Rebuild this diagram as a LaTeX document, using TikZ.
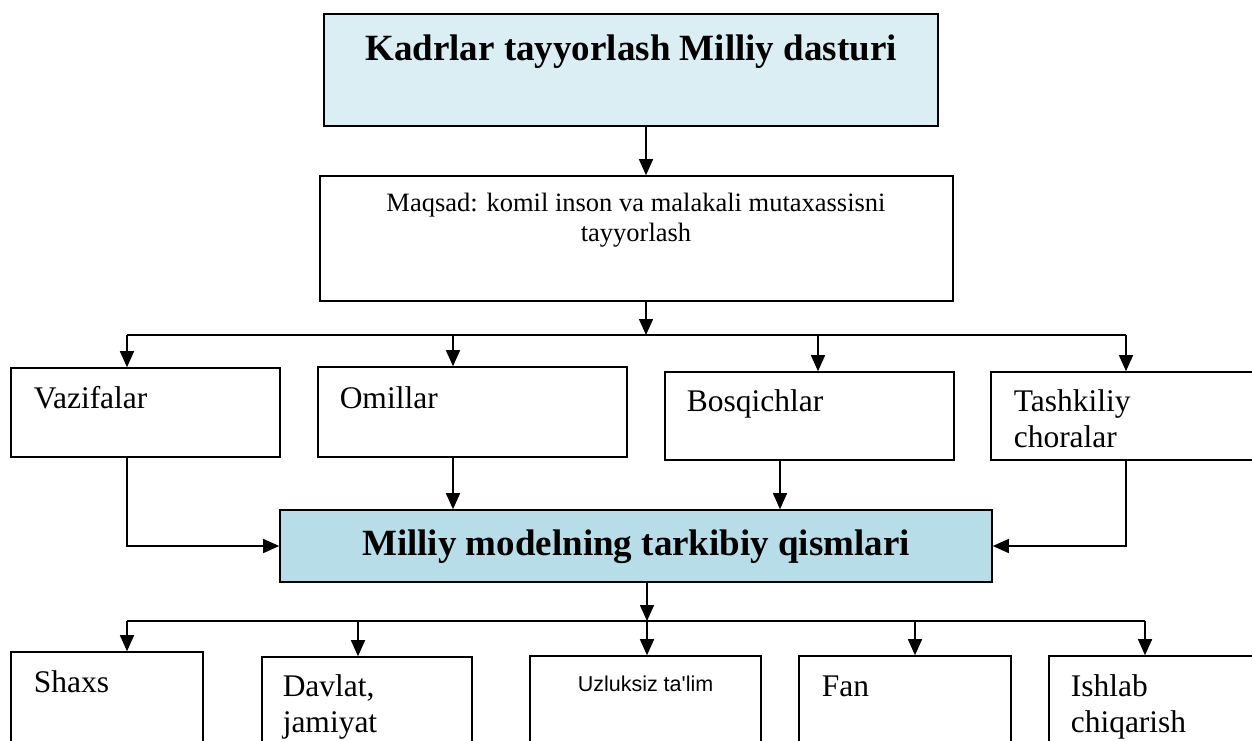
\documentclass[tikz,border=0pt]{standalone}
\usepackage{fontspec}
\setmainfont{Liberation Serif}
\newfontfamily\arialfont{Liberation Sans}
\usetikzlibrary{arrows.meta}

\definecolor{paleblue}{HTML}{DAEEF3}
\definecolor{midblue}{HTML}{B7DEE8}

\begin{document}
\begin{tikzpicture}[x=1pt, y=-1pt, line width=1.5pt,
		plain/.style = {draw, line width=1.6pt, fill=white, inner sep=0pt},
		shaded/.style = {draw, line width=1.6pt, inner sep=0pt},
		lbl/.style = {inner sep=0pt, align=left, anchor=base west,
			font=\fontsize{31.5}{36}\selectfont},
		head/.style = {inner sep=0pt, anchor=base,
			font=\fontsize{37}{44}\selectfont\bfseries},
		arr/.style = {-{Triangle[length=16pt,width=14pt]}}]

	\useasboundingbox (0,0) rectangle (1252,740);
	\clip (0,0) rectangle (1252,740);

	% upper part
	\node [shaded, fill=paleblue, minimum width=614pt, minimum height=112pt] (kad) at (631,70) {};
	\node [plain, minimum width=633pt, minimum height=125pt] (maq) at (636.5,238.5) {};
	\node [head] at (631,60) {Kadrlar tayyorlash Milliy dasturi};
	% base of a two-line node is the last line
	\node [inner sep=0pt, anchor=base, align=center, font=\fontsize{26.5}{30}\selectfont] at (636,241)
		{Maqsad: komil inson va malakali mutaxassisni\\tayyorlash};

	\coordinate (hub1) at (646,335);
	\coordinate (t1) at (127,335);
	\coordinate (t2) at (453,335);
	\coordinate (t3) at (818,335);
	\coordinate (t4) at (1126,335);
	\coordinate (c3) at (780,485);

	\draw [arr] (kad.south -| hub1) -- (maq.north -| hub1);
	\draw [arr] (maq.south -| hub1) -- (hub1);

	% second row
	\node [plain, minimum width=269pt, minimum height=89pt] (vaz) at (145.5,412.5) {};
	\node [plain, minimum width=309pt, minimum height=90pt] (omi) at (472.5,412) {};
	\node [plain, minimum width=289pt, minimum height=88pt] (bos) at (809.5,416) {};
	\node [plain, minimum width=271pt, minimum height=88pt] (tas) at (1126.5,416) {};
	\node [lbl] at (33,408) {Vazifalar};
	\node [lbl] at (339,408) {Omillar};
	\node [lbl] at (686,411) {Bosqichlar};
	\node [lbl] at (1013,447) {Tashkiliy\\choralar};

	\draw (t1) -- (t4);
	\draw [arr] (t1) -- (t1 |- vaz.north);
	\draw [arr] (t2) -- (t2 |- omi.north);
	\draw [arr] (t3) -- (t3 |- bos.north);
	\draw [arr] (t4) -- (t4 |- tas.north);

	% middle
	\node [shaded, fill=midblue, minimum width=712pt, minimum height=72pt] (mid) at (636,546) {};
	\node [head] at (636,555) {Milliy modelning tarkibiy qismlari};

	\draw [arr] (t1 |- vaz.south) -- (t1 |- mid.west) -- (mid.west);
	\draw [arr] (t2 |- omi.south) -- (t2 |- mid.north);
	\draw [arr] (bos.south -| c3) -- (mid.north -| c3);
	\draw [arr] (t4 |- tas.south) -- (t4 |- mid.east) -- (mid.east);

	% lower row
	\coordinate (hub2) at (647,621);
	\coordinate (b1) at (127,621);
	\coordinate (b2) at (358,621);
	\coordinate (b4) at (915,621);
	\coordinate (b5) at (1145,621);

	\node [plain, minimum width=192pt, minimum height=148pt] (sha) at (107,726) {};
	\node [plain, minimum width=210pt, minimum height=143pt] (dav) at (367,728.5) {};
	\node [plain, minimum width=231pt, minimum height=144pt] (uzl) at (645.5,728) {};
	\node [plain, minimum width=212pt, minimum height=144pt] (fan) at (905,728) {};
	\node [plain, minimum width=213pt, minimum height=144pt] (ish) at (1155.5,728) {};
	\node [lbl] at (33,692) {Shaxs};
	\node [lbl] at (282,732) {Davlat,\\jamiyat};
	\node [lbl, font=\fontsize{21.5}{26}\arialfont] at (577,691) {Uzluksiz ta\symbol{39}lim};
	\node [lbl] at (821,696) {Fan};
	\node [lbl] at (1070,732) {Ishlab\\chiqarish};

	\draw [arr] (mid.south -| hub2) -- (hub2);
	\draw (b1) -- (b5);
	\draw [arr] (b1) -- (b1 |- sha.north);
	\draw [arr] (b2) -- (b2 |- dav.north);
	\draw [arr] (hub2) -- (hub2 |- uzl.north);
	\draw [arr] (b4) -- (b4 |- fan.north);
	\draw [arr] (b5) -- (b5 |- ish.north);
\end{tikzpicture}
\end{document}
